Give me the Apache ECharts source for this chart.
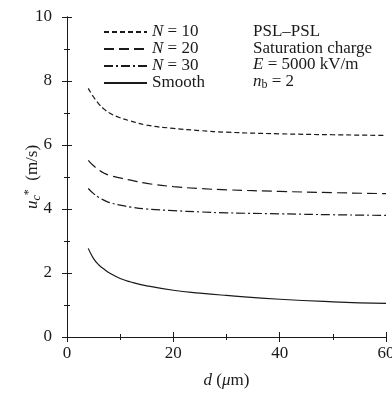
<!DOCTYPE html>
<html>
<head>
<meta charset="utf-8">
<script src="https://cdn.jsdelivr.net/npm/echarts@6/dist/echarts.min.js"></script>
<style>
  html, body { margin: 0; padding: 0; background: #fff; }
  #chart { width: 392px; height: 394px; }
</style>
</head>
<body>
<div id="chart"></div>
<script>
// particle diameter d (um)
const dValues = [4, 5, 6, 7, 8, 10, 12, 15, 20, 25, 30, 40, 50, 60];

// critical velocity u_c* (m/s)
const n10 = [7.77, 7.5, 7.28, 7.12, 7.0, 6.85, 6.75, 6.62, 6.52, 6.45, 6.4, 6.35, 6.32, 6.3];
const n20 = [5.52, 5.35, 5.22, 5.12, 5.05, 4.97, 4.9, 4.8, 4.7, 4.64, 4.6, 4.55, 4.51, 4.48];
const n30 = [4.64, 4.48, 4.36, 4.27, 4.2, 4.12, 4.06, 4.0, 3.95, 3.91, 3.88, 3.85, 3.82, 3.8];
const smooth = [2.77, 2.45, 2.25, 2.12, 2.0, 1.83, 1.72, 1.6, 1.46, 1.37, 1.3, 1.18, 1.1, 1.05];

const seriesNames = ['N = 10', 'N = 20', 'N = 30', 'Smooth'];
const noteLines = ['PSL\u2013PSL', 'Saturation charge', '{i|E} = 5000 kV/m', '{i|n}{sub|b} = 2'];

const INK = '#1a1a1a';
const FONT = '"Liberation Serif", "DejaVu Serif", serif';

const chart = echarts.init(document.getElementById('chart'), null, { renderer: 'canvas' });

const pairs = (ys) => dValues.map((d, i) => [d, ys[i]]);

const mkSeries = (name, ys, type) => ({
  name,
  type: 'line',
  data: pairs(ys),
  smooth: true,
  showSymbol: false,
  symbol: 'none',
  lineStyle: { color: INK, width: 1.2, type },
  itemStyle: { color: INK },
  emphasis: { disabled: true },
});

const baseX = {
  type: 'value',
  min: 0,
  max: 60,
  interval: 20,
  axisLine: { show: true, lineStyle: { color: INK, width: 1 } },
  axisTick: { show: true, inside: true, length: 5, lineStyle: { color: INK } },
  minorTick: { show: true, splitNumber: 2, length: 3, lineStyle: { color: INK } },
  splitLine: { show: false },
};

const baseY = {
  type: 'value',
  min: 0,
  max: 10,
  interval: 2,
  axisLine: { show: true, lineStyle: { color: INK, width: 1 } },
  axisTick: { show: true, inside: true, length: 5, lineStyle: { color: INK } },
  minorTick: { show: true, splitNumber: 2, length: 3, lineStyle: { color: INK } },
  splitLine: { show: false },
};

const option = {
  animation: false,
  backgroundColor: '#fff',
  textStyle: { fontFamily: FONT, color: INK },
  grid: { left: 67, right: 6, top: 17, bottom: 57, containLabel: false, outerBoundsMode: 'none' },
  legend: {
    orient: 'vertical',
    left: 103,
    top: 23.5,
    padding: 0,
    itemGap: 0,
    itemWidth: 43,
    itemHeight: 15,
    selectedMode: false,
    data: seriesNames,
    itemStyle: { color: 'rgba(0,0,0,0)', borderColor: 'rgba(0,0,0,0)', borderWidth: 0, opacity: 0 },
    formatter: (name) => name.startsWith('N') ? '{i|N}' + name.slice(1) : name,
    textStyle: {
      fontFamily: FONT,
      fontSize: 17,
      color: INK,
      rich: {
        i: { fontFamily: FONT, fontSize: 17, fontStyle: 'italic', color: INK },
      },
    },
  },
  graphic: [
    {
      type: 'text',
      left: 253,
      top: 23,
      silent: true,
      style: {
        text: noteLines.join('\n'),
        font: '17px ' + FONT,
        fill: INK,
        lineHeight: 16.7,
        rich: {
          i: { fontFamily: FONT, fontSize: 17, fontStyle: 'italic', fill: INK, lineHeight: 16.7 },
          sub: { fontFamily: FONT, fontSize: 12, fill: INK, padding: [7, 0, 0, 0], lineHeight: 16.7 },
        },
      },
    },
  ],
  xAxis: [
    {
      ...baseX,
      position: 'bottom',
      name: '{i|d} ({i|\u03bc}m)',
      nameLocation: 'middle',
      nameGap: 35,
      nameMoveOverlap: false,
      nameTextStyle: {
        fontFamily: FONT,
        fontSize: 17,
        color: INK,
        rich: { i: { fontFamily: FONT, fontSize: 17, fontStyle: 'italic', color: INK } },
      },
      axisLabel: { fontFamily: FONT, fontSize: 17, color: INK, margin: 8 },
    },
    {
      ...baseX,
      position: 'top',
      axisLabel: { show: false },
    },
  ],
  yAxis: [
    {
      ...baseY,
      position: 'left',
      name: '{i|u}{sub|c}{sup|*}  (m/s)',
      nameLocation: 'middle',
      nameRotate: 90,
      nameGap: 24,
      nameMoveOverlap: false,
      nameTextStyle: {
        fontFamily: FONT,
        fontSize: 17,
        color: INK,
        rich: {
          i: { fontFamily: FONT, fontSize: 17, fontStyle: 'italic', color: INK },
          sub: { fontFamily: FONT, fontSize: 12, fontStyle: 'italic', color: INK, padding: [8, 0, 0, 0] },
          sup: { fontFamily: FONT, fontSize: 12, color: INK, padding: [0, 0, 8, 0] },
        },
      },
      axisLabel: { fontFamily: FONT, fontSize: 17, color: INK, margin: 15 },
    },
    {
      ...baseY,
      position: 'right',
      axisLabel: { show: false },
    },
  ],
  series: [
    mkSeries(seriesNames[0], n10, [5, 3]),
    mkSeries(seriesNames[1], n20, [10, 5]),
    mkSeries(seriesNames[2], n30, [9, 3, 2, 3]),
    mkSeries(seriesNames[3], smooth, 'solid'),
  ],
};

chart.setOption(option);

window.addEventListener('resize', () => chart.resize());
</script>
</body>
</html>
